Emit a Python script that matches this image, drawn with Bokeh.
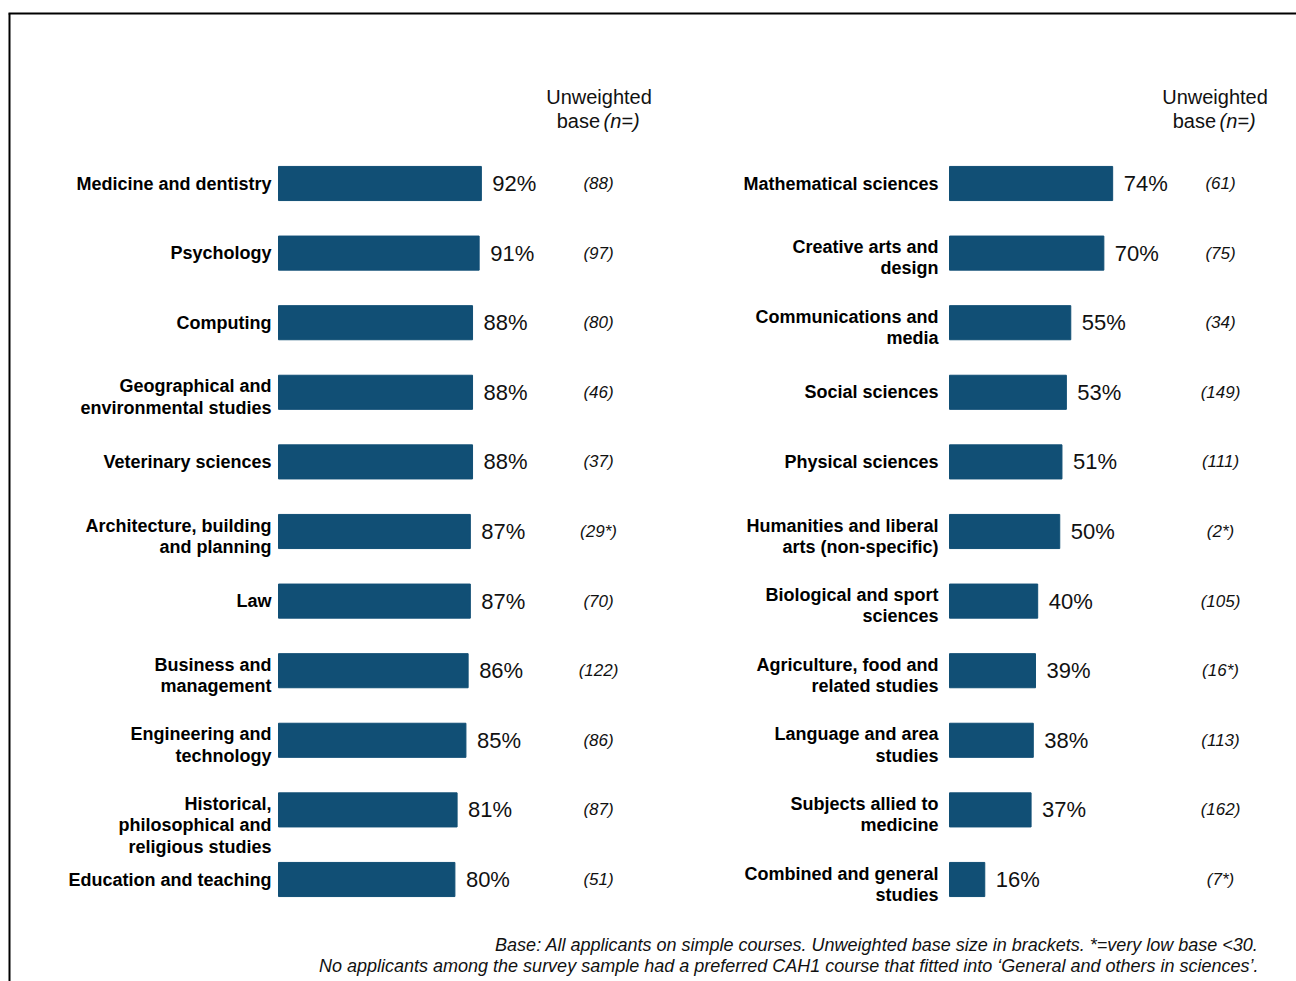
from bokeh.plotting import figure
from bokeh.models import ColumnDataSource, Range1d
from bokeh.core.properties import value
from bokeh.embed import file_html
from bokeh.resources import INLINE

# ---------------- data ----------------
left_cats = [
    "Medicine and dentistry",
    "Psychology",
    "Computing",
    "Geographical and\nenvironmental studies",
    "Veterinary sciences",
    "Architecture, building\nand planning",
    "Law",
    "Business and\nmanagement",
    "Engineering and\ntechnology",
    "Historical,\nphilosophical and\nreligious studies",
    "Education and teaching",
]
left_vals = [92, 91, 88, 88, 88, 87, 87, 86, 85, 81, 80]
left_n = ["(88)", "(97)", "(80)", "(46)", "(37)", "(29*)", "(70)", "(122)", "(86)", "(87)", "(51)"]

right_cats = [
    "Mathematical sciences",
    "Creative arts and\ndesign",
    "Communications and\nmedia",
    "Social sciences",
    "Physical sciences",
    "Humanities and liberal\narts (non-specific)",
    "Biological and sport\nsciences",
    "Agriculture, food and\nrelated studies",
    "Language and area\nstudies",
    "Subjects allied to\nmedicine",
    "Combined and general\nstudies",
]
right_vals = [74, 70, 55, 53, 51, 50, 40, 39, 38, 37, 16]
right_n = ["(61)", "(75)", "(34)", "(149)", "(111)", "(2*)", "(105)", "(16*)", "(113)", "(162)", "(7*)"]

header_line1 = "Unweighted"
header_line2a = "base"
header_line2b = "(n=)"
footnote_lines = [
    "Base: All applicants on simple courses. Unweighted base size in brackets. *=very low base <30.",
    "No applicants among the survey sample had a preferred CAH1 course that fitted into \u2018General and others in sciences\u2019.",
]

# ---------------- layout constants (page pixels) ----------------
W, H = 1296, 981
S = 2.205          # px per percentage point
ROW = 69.6         # px per row
LEFT_ORIGIN = 278  # px of left bars' base
RIGHT_ORIGIN = 949 # px of right bars' base
ROW0 = 183         # px of first row centre
BAR_COLOR = "#114F75"
FONT = "Liberation Sans"
LINE_PX = 21.5


def lx(px):
    return (px - LEFT_ORIGIN) / S


def ly(py):
    return (py - ROW0) / ROW


p = figure(
    width=W, height=H,
    x_range=Range1d(-LEFT_ORIGIN / S, (W - LEFT_ORIGIN) / S),
    y_range=Range1d(start=(H - ROW0) / ROW, end=-ROW0 / ROW),
    x_axis_location=None, y_axis_location=None,
    toolbar_location=None, output_backend="svg",
    min_border=0,
)
p.extra_x_ranges = {"right": Range1d(-RIGHT_ORIGIN / S, (W - RIGHT_ORIGIN) / S)}
p.xgrid.visible = False
p.ygrid.visible = False
p.outline_line_color = None
p.background_fill_color = "white"


def label_offsets(cats):
    out = []
    for c in cats:
        n = c.count("\n") + 1
        out.append(0 if n == 1 else (n - 1) * LINE_PX / 2 - 6)
    return out


def panel(cats, vals, ns, range_name, n_x, cat_gap):
    rows = list(range(len(cats)))
    src = ColumnDataSource(dict(
        row=rows, val=vals, cat=cats, n=ns,
        pct=[f"{v}%" for v in vals],
        zero=[0] * len(vals),
        nx=[n_x] * len(vals),
        yoff=label_offsets(cats),
    ))
    kw = {} if range_name is None else {"x_range_name": range_name}
    p.hbar(y="row", left="zero", right="val", height=0.49, source=src,
           fill_color=BAR_COLOR, line_color=BAR_COLOR, **kw)
    p.text(x="zero", y="row", text="cat", source=src, x_offset=-cat_gap, y_offset="yoff",
           text_align="right", text_baseline="middle", text_font=value(FONT),
           text_font_style="bold", text_font_size="18px", text_color="black",
           text_line_height=1.06, **kw)
    p.text(x="val", y="row", text="pct", source=src, x_offset=11,
           text_align="left", text_baseline="middle", text_font=value(FONT),
           text_font_size="22px", text_color="#111111", **kw)
    p.text(x="nx", y="row", text="n", source=src,
           text_align="center", text_baseline="middle", text_font=value(FONT),
           text_font_style="italic", text_font_size="17px", text_color="#111111", **kw)


panel(left_cats, left_vals, left_n, None, lx(598), 7)
panel(right_cats, right_vals, right_n, "right", lx(1220) - (RIGHT_ORIGIN - LEFT_ORIGIN) / S, 11)

# headers (left-range coordinates)
for hx in [lx(598.5), lx(1214.5)]:
    p.text(x=[hx], y=[ly(96)], text=[header_line1], text_align="center", text_baseline="middle",
           text_font=value(FONT), text_font_size="20px", text_color="#111111")
    p.text(x=[hx], y=[ly(120)], text=[header_line2a], x_offset=1, text_align="right",
           text_baseline="middle", text_font=value(FONT), text_font_size="20px", text_color="#111111")
    p.text(x=[hx], y=[ly(120)], text=[header_line2b], x_offset=4.5, text_align="left",
           text_baseline="middle", text_font=value(FONT), text_font_style="italic",
           text_font_size="20px", text_color="#111111")

# footnote
p.text(x=[lx(1258)] * 2, y=[ly(944), ly(965)], text=footnote_lines, text_align="right",
       text_baseline="middle", text_font=value(FONT), text_font_style="italic",
       text_font_size="18px", text_color="#111111")

# frame border (left and top edges only, the rest runs off the page)
p.segment(x0=[lx(9), lx(8)], y0=[ly(13), ly(13)], x1=[lx(9), lx(W + 20)], y1=[ly(H + 20), ly(13)],
          line_color="black", line_width=2)

open("out.html", "w").write(file_html(p, INLINE))
